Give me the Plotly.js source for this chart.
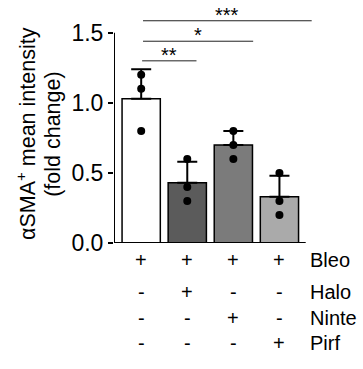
<!DOCTYPE html>
<html>
<head>
<meta charset="utf-8">
<script src="https://cdn.plot.ly/plotly-3.0.1.min.js"></script>
<style>html,body{margin:0;padding:0;background:#fff;}#chart{width:363px;height:369px;}</style>
</head>
<body>
<div id="chart"></div>
<script>
// ---- data ----
var groups = ['Bleo', 'Bleo+Halo', 'Bleo+Ninte', 'Bleo+Pirf'];
var means = [1.03, 0.43, 0.70, 0.33];
var sds = [0.21, 0.15, 0.10, 0.15];
var barColors = ['#ffffff', '#5b5b5b', '#7b7b7b', '#aaaaaa'];
var pointsG1 = [1.2, 1.1, 0.8];
var pointsG2 = [0.6, 0.4, 0.3];
var pointsG3 = [0.8, 0.7, 0.6];
var pointsG4 = [0.5, 0.3, 0.2];
var rowLabels = ['Bleo', 'Halo', 'Ninte', 'Pirf'];
var rowSigns = [
  ['+', '+', '+', '+'],
  ['-', '+', '-', '-'],
  ['-', '-', '+', '-'],
  ['-', '-', '-', '+']
];
var sigFrom = [0.02, 0.04, 0.04];
var sigTo = [1.2, 2.43, 3.7];
var sigY = [1.30, 1.44, 1.586];
var sigLabel = ['**', '*', '***'];
var yTicks = [0, 0.5, 1.0, 1.5];
var yTickText = ['0.0', '0.5', '1.0', '1.5'];
var yTitleLines = ['αSMA<sup>+</sup> mean intensity', '(fold change)'];

// ---- build ----
var FONT = 'Liberation Sans, Arial, sans-serif';
var allPts = [pointsG1, pointsG2, pointsG3, pointsG4];
var px = [], py = [];
allPts.forEach(function (arr, i) {
  arr.forEach(function (v) { px.push(i); py.push(v); });
});

var xIdx = groups.map(function (g, i) { return i; });

var traces = [
  {
    type: 'bar', x: xIdx, y: means, width: 0.83,
    marker: { color: barColors, line: { color: '#000', width: 1.5 } },
    error_y: { type: 'data', symmetric: false, array: sds, arrayminus: sds.map(function () { return 0; }),
      color: '#000', thickness: 2, width: 10 },
    hoverinfo: 'skip', name: 'mean'
  },
  {
    type: 'scatter', mode: 'markers', x: px, y: py,
    marker: { color: '#000', size: 8 }, hoverinfo: 'skip'
  }
];

var shapes = [
  // axis lines
  { type: 'line', xref: 'x', yref: 'y', x0: -0.59, x1: -0.59, y0: 0, y1: 1.5, line: { color: '#000', width: 2 } },
  { type: 'line', xref: 'x', yref: 'y', x0: -0.59, x1: 3.57, y0: 0, y1: 0, line: { color: '#000', width: 2 } }
];
var annotations = [];
for (var s = 0; s < sigLabel.length; s++) {
  shapes.push({ type: 'line', xref: 'x', yref: 'y', x0: sigFrom[s], x1: sigTo[s], y0: sigY[s], y1: sigY[s],
    line: { color: '#222', width: 1 } });
  annotations.push({ xref: 'x', yref: 'y', x: (sigFrom[s] + sigTo[s]) / 2, y: sigY[s], text: sigLabel[s],
    showarrow: false, xanchor: 'center', yanchor: 'bottom', yshift: -7,
    font: { family: FONT, size: 20, color: '#000' } });
}
var rowPaperY = [-0.074, -0.216, -0.330, -0.441];
for (var r = 0; r < rowLabels.length; r++) {
  for (var c = 0; c < groups.length; c++) {
    annotations.push({ xref: 'x', yref: 'paper', x: c, y: rowPaperY[r], text: rowSigns[r][c],
      showarrow: false, xanchor: 'center', yanchor: 'middle',
      font: { family: FONT, size: 20, color: '#000' } });
  }
  annotations.push({ xref: 'x', yref: 'paper', x: 3.63, y: rowPaperY[r], text: rowLabels[r],
    showarrow: false, xanchor: 'left', yanchor: 'middle',
    font: { family: FONT, size: 20, color: '#000' } });
}
var titleX = [-0.44, -0.306];
for (var t = 0; t < yTitleLines.length; t++) {
  annotations.push({ xref: 'paper', yref: 'paper', x: titleX[t], y: 0.48, text: yTitleLines[t],
    textangle: -90, showarrow: false, xanchor: 'center', yanchor: 'middle',
    font: { family: FONT, size: 21.5, color: '#000' } });
}

var layout = {
  width: 363, height: 369,
  margin: { l: 114, r: 49, t: 16, b: 126, pad: 0 },
  paper_bgcolor: '#fff', plot_bgcolor: '#fff',
  showlegend: false,
  xaxis: { range: [-0.59, 3.75], showline: false, showgrid: false, zeroline: false,
    showticklabels: false, ticks: '', fixedrange: true },
  yaxis: { range: [0, 1.62], showline: false, showgrid: false, zeroline: false,
    tickvals: yTicks, ticktext: yTickText, ticks: 'outside', ticklen: 5, tickwidth: 2, tickcolor: '#000',
    tickfont: { family: FONT, size: 23, color: '#000' },
    fixedrange: true },
  shapes: shapes,
  annotations: annotations
};

Plotly.newPlot('chart', traces, layout, { displayModeBar: false, staticPlot: true });
</script>
</body>
</html>
